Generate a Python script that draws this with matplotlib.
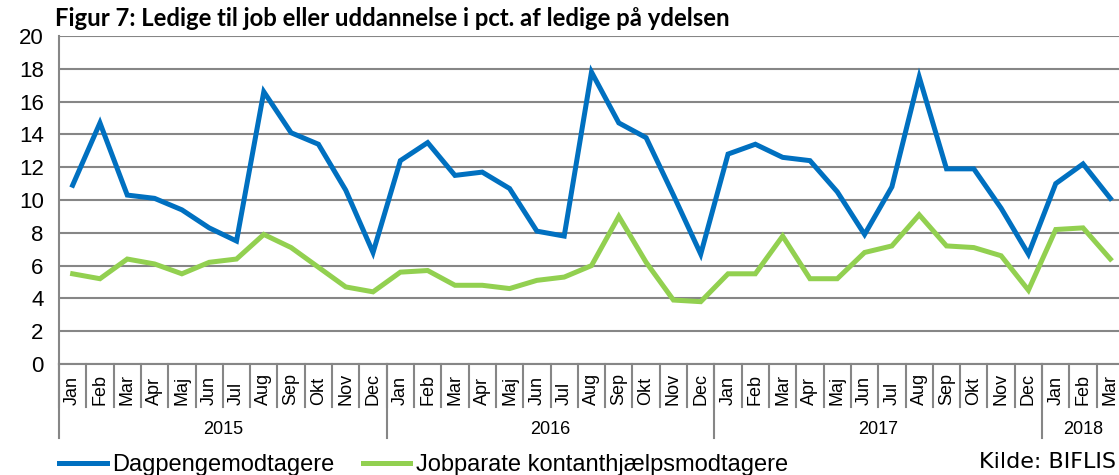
import numpy as np
import matplotlib
matplotlib.use('Agg')
import matplotlib.pyplot as plt
import matplotlib.transforms as mtransforms

# Data
months = ['Jan', 'Feb', 'Mar', 'Apr', 'Maj', 'Jun', 'Jul', 'Aug', 'Sep', 'Okt', 'Nov', 'Dec'] * 3 + ['Jan', 'Feb', 'Mar']
years = ['2015', '2016', '2017', '2018']
year_lengths = [12, 12, 12, 3]

dagpenge = [10.9, 14.7, 10.3, 10.1, 9.4, 8.3, 7.5, 16.6, 14.1, 13.4, 10.6, 6.8,
            12.4, 13.5, 11.5, 11.7, 10.7, 8.1, 7.8, 17.8, 14.7, 13.8, 10.3, 6.7,
            12.8, 13.4, 12.6, 12.4, 10.5, 7.9, 10.8, 17.5, 11.9, 11.9, 9.5, 6.7,
            11.0, 12.2, 10.1]
jobparate = [5.5, 5.2, 6.4, 6.1, 5.5, 6.2, 6.4, 7.9, 7.1, 5.9, 4.7, 4.4,
             5.6, 5.7, 4.8, 4.8, 4.6, 5.1, 5.3, 6.0, 9.0, 6.2, 3.9, 3.8,
             5.5, 5.5, 7.8, 5.2, 5.2, 6.8, 7.2, 9.1, 7.2, 7.1, 6.6, 4.5,
             8.2, 8.3, 6.4]

blue = '#0070C0'
green = '#92D050'
grey = '#868686'

plt.rcParams['font.family'] = ['Liberation Sans', 'DejaVu Sans']

fig = plt.figure(figsize=(11.19, 4.75), dpi=100)
ax = fig.add_axes([59 / 1119, 1 - 364 / 475, 1065 / 1119, 328 / 475])

x = np.arange(len(months))
ax.plot(x, dagpenge, color=blue, lw=3.6, label='Dagpengemodtagere', solid_joinstyle='miter', zorder=3)
ax.plot(x, jobparate, color=green, lw=3.6, label='Jobparate kontanthjælpsmodtagere', solid_joinstyle='miter', zorder=3)

ax.set_xlim(-0.5, len(months) - 0.5)
ax.set_ylim(0, 20)
ax.set_yticks(np.arange(0, 21, 2))
ax.yaxis.grid(True, color=grey, lw=1.5)
ax.set_axisbelow(True)
ax.tick_params(axis='y', length=0, pad=11, labelsize=16)
ax.set_xticks([])
for s in ['top', 'right']:
    ax.spines[s].set_visible(False)
for s in ['left', 'bottom']:
    ax.spines[s].set_color(grey)
    ax.spines[s].set_linewidth(1.5)

# category axis: month ticks, month labels, year separators and labels
trans = mtransforms.blended_transform_factory(ax.transData, ax.transAxes)
px = 1 / 328
for i in range(len(months) + 1):
    ax.plot([i - 0.5, i - 0.5], [0, -43 * px], color=grey, lw=1.5, transform=trans, clip_on=False)
for i, m in enumerate(months):
    ax.text(i, -41 * px, m, rotation=90, ha='center', va='bottom', fontsize=13,
            transform=trans)
start = 0
for yr, n in zip(years, year_lengths):
    ax.plot([start - 0.5, start - 0.5], [0, -74 * px], color=grey, lw=1.5, transform=trans, clip_on=False)
    ax.text(start + n / 2 - 0.5, -66 * px, yr, ha='center', va='center', fontsize=13, transform=trans)
    start += n

fig.text(55 / 1119, 1 - 26 / 475, 'Figur 7: Ledige til job eller uddannelse i pct. af ledige på ydelsen',
         fontsize=17.2, fontweight='bold', family='Lato', ha='left', va='baseline')

leg = fig.legend(loc='lower left', bbox_to_anchor=(50 / 1119, -0.022), ncol=2, frameon=False,
                 fontsize=17, handlelength=2.0, handletextpad=0.25, columnspacing=1.2,
                 borderaxespad=0)

fig.text(1116 / 1119, 1 - 472 / 475, 'Kilde: BIFLIS', fontsize=16, family='DejaVu Sans',
         ha='right', va='bottom')

fig.savefig('out.png', dpi=100)
